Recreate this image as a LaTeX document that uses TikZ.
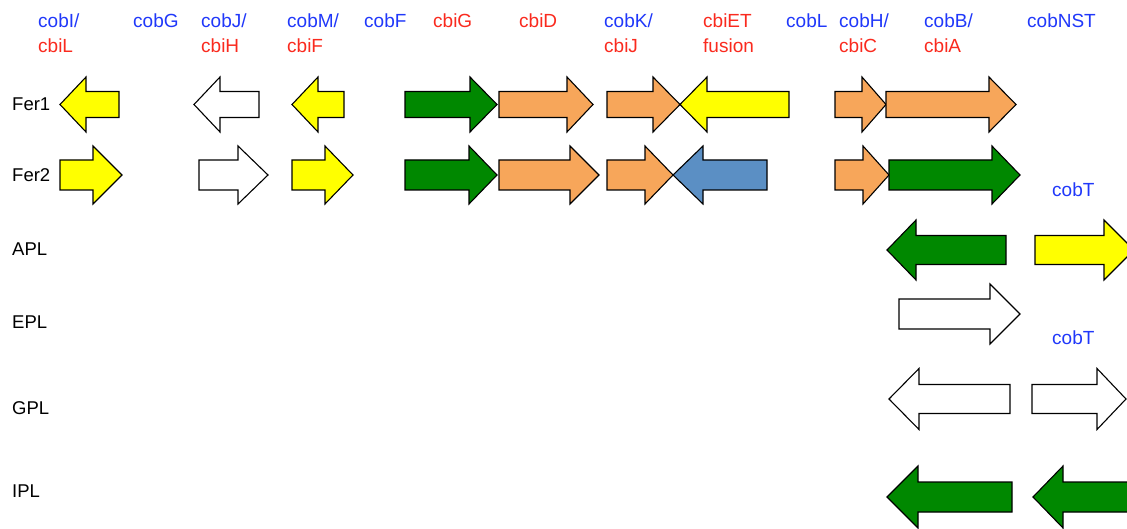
\documentclass[tikz,border=0pt]{standalone}
\usepackage{fontspec}
\setmainfont{Liberation Sans}
\definecolor{txtblue}{RGB}{32,56,250}
\definecolor{txtred}{RGB}{250,42,30}
\definecolor{gyellow}{RGB}{255,255,0}
\definecolor{gorange}{RGB}{247,166,90}
\definecolor{ggreen}{RGB}{0,136,0}
\definecolor{gblue}{RGB}{91,143,196}
\tikzset{
  genestyle/.style={draw=black, line width=1.1pt, line join=miter},
  toplab/.style={anchor=base west, inner sep=0pt, font=\fontsize{19}{25}\selectfont},
  rowlab/.style={anchor=base west, inner sep=0pt, font=\fontsize{18.5}{22}\selectfont, text=black},
}
% tail x, head-base x, tip x, centre y, shaft half, head half, fill
\newcommand{\genearrow}[7]{%
  \draw[genestyle, fill=#7] (#1,#4-#5) -- (#2,#4-#5) -- (#2,#4-#6) -- (#3,#4)
    -- (#2,#4+#6) -- (#2,#4+#5) -- (#1,#4+#5) -- cycle;}
\begin{document}
\begin{tikzpicture}[x=1pt,y=-1pt]
\clip (0,0) rectangle (1127,529);
\fill[white] (0,0) rectangle (1127,529);
% top labels
\node[toplab, text=txtblue] (l1a) at (38,28) {cobI/};
\node[toplab, text=txtred] (l1b) at (38,53) {cbiL};
\node[toplab, text=txtblue] (l2) at (133,28) {cobG};
\node[toplab, text=txtblue] (l3a) at (201,28) {cobJ/};
\node[toplab, text=txtred] (l3b) at (201,53) {cbiH};
\node[toplab, text=txtblue] (l4a) at (287,28) {cobM/};
\node[toplab, text=txtred] (l4b) at (287,53) {cbiF};
\node[toplab, text=txtblue] (l5) at (364,28) {cobF};
\node[toplab, text=txtred] (l6) at (433,28) {cbiG};
\node[toplab, text=txtred] (l7) at (519,28) {cbiD};
\node[toplab, text=txtblue] (l8a) at (604,28) {cobK/};
\node[toplab, text=txtred] (l8b) at (604,53) {cbiJ};
\node[toplab, text=txtred] (l9a) at (703,28) {cbiET};
\node[toplab, text=txtred] (l9b) at (703,53) {fusion};
\node[toplab, text=txtblue] (l10) at (786,28) {cobL};
\node[toplab, text=txtblue] (l11a) at (839,28) {cobH/};
\node[toplab, text=txtred] (l11b) at (839,53) {cbiC};
\node[toplab, text=txtblue] (l12a) at (924,28) {cobB/};
\node[toplab, text=txtred] (l12b) at (924,53) {cbiA};
\node[toplab, text=txtblue] (l13) at (1027,28) {cobNST};
\node[toplab, text=txtblue] (t1) at (1052,197) {cobT};
\node[toplab, text=txtblue] (t2) at (1052,344) {cobT};
% row labels
\node[rowlab] (fer1) at (12,111) {Fer1};
\node[rowlab] (fer2) at (12,182) {Fer2};
\node[rowlab] (apl) at (12,256) {APL};
\node[rowlab] (epl) at (12,328) {EPL};
\node[rowlab] (gpl) at (12,414) {GPL};
\node[rowlab] (ipl) at (12,497) {IPL};
% Fer1
\genearrow{119}{86}{60}{104.5}{13}{27.5}{gyellow}
\genearrow{259}{220}{194}{104.5}{13}{27.5}{white}
\genearrow{344}{318}{292}{104.5}{13}{27.5}{gyellow}
\genearrow{405}{470}{497}{104.5}{13}{27.5}{ggreen}
\genearrow{499}{567}{593}{104.5}{13}{27.5}{gorange}
\genearrow{607}{653}{680}{104.5}{13}{27.5}{gorange}
\genearrow{789}{707}{680}{104.5}{13}{27.5}{gyellow}
\genearrow{835}{862}{886}{104.5}{13}{27.5}{gorange}
\genearrow{886}{989}{1016}{104.5}{13}{27.5}{gorange}
% Fer2
\genearrow{60}{93}{122}{175}{15}{29}{gyellow}
\genearrow{199}{238}{268}{175}{15}{29}{white}
\genearrow{292}{325}{353}{175}{15}{29}{gyellow}
\genearrow{405}{469}{497}{175}{15}{29}{ggreen}
\genearrow{499}{570}{599}{175}{15}{29}{gorange}
\genearrow{607}{645}{673}{175}{15}{29}{gorange}
\genearrow{767}{703}{673}{175}{15}{29}{gblue}
\genearrow{835}{863}{889}{175}{15}{29}{gorange}
\genearrow{889}{992}{1020}{175}{15}{29}{ggreen}
% APL
\genearrow{1006}{916}{887}{250}{14.5}{30}{ggreen}
\genearrow{1035}{1104}{1134}{250}{14.5}{30}{gyellow}
% EPL
\genearrow{899}{990}{1020}{314}{15}{30}{white}
% GPL
\genearrow{1010}{919}{889}{399}{14.5}{30.5}{white}
\genearrow{1032}{1097}{1126}{399}{14.5}{30.5}{white}
% IPL
\genearrow{1012}{918}{887}{497}{15}{31}{ggreen}
\genearrow{1145}{1063}{1033}{497}{15}{31}{ggreen}
\end{tikzpicture}
\end{document}
